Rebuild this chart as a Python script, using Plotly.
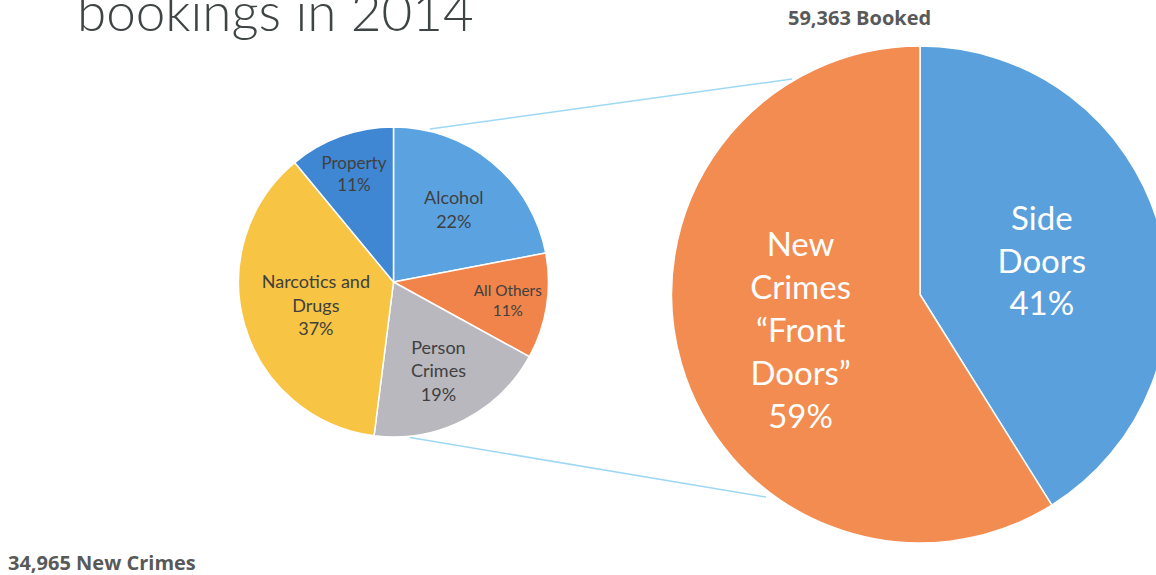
import plotly.graph_objects as go

# New-crime breakdown (share of new-crime bookings, %)
crime_types = ["Alcohol", "All Others", "Person Crimes", "Narcotics and Drugs", "Property"]
crime_text = ["Alcohol", "All Others", "Person<br>Crimes", "Narcotics and<br>Drugs", "Property"]
crime_share = [22, 11, 19, 37, 11]
crime_colors = ["#5BA3E0", "#F0844A", "#B9B8BE", "#F7C443", "#3F86D3"]

# All bookings split by entry route (counts)
booking_types = ["Side Doors", "New Crimes \u201cFront Doors\u201d"]
booking_text = ["Side<br>Doors", "New<br>Crimes<br>\u201cFront<br>Doors\u201d"]
booking_counts = [24398, 34965]
booking_colors = ["#5AA0DC", "#F28C50"]

total_booked = "59,363 Booked"
new_crimes_total = "34,965 New Crimes"
title_text = "bookings in 2014"

W, H = 1170, 575


def px(x):
    return x / W


def py(y):
    return 1 - y / H


fig = go.Figure()

# small pie: centre (393.5, 282), radius 155 px
fig.add_trace(go.Pie(
    labels=crime_types,
    values=crime_share,
    text=crime_text,
    texttemplate="%{text}<br>%{percent:.0%}",
    textposition="inside",
    insidetextorientation="horizontal",
    textfont=dict(family="Lato", size=18, color="#404040"),
    marker=dict(colors=crime_colors, line=dict(color="white", width=1.5)),
    sort=False,
    direction="clockwise",
    rotation=0,
    hoverinfo="skip",
    showlegend=False,
    domain=dict(x=[px(238.5), px(548.5)], y=[py(437), py(127)]),
))

# large pie: centre (920, 294.5), radius 248.5 px
fig.add_trace(go.Pie(
    labels=booking_types,
    values=booking_counts,
    text=booking_text,
    texttemplate="%{text}<br>%{percent:.0%}",
    textposition="inside",
    insidetextorientation="horizontal",
    textfont=dict(family="Lato", size=33, color="white"),
    marker=dict(colors=booking_colors, line=dict(color="white", width=1.5)),
    sort=False,
    direction="clockwise",
    rotation=0,
    hoverinfo="skip",
    showlegend=False,
    domain=dict(x=[px(671.5), px(1168.5)], y=[py(543), py(46)]),
))

# connector lines between the two pies
line_style = dict(color="#9ED8F5", width=1.5)
fig.add_shape(type="line", xref="paper", yref="paper",
              x0=px(430), y0=py(129), x1=px(792), y1=py(79), line=line_style)
fig.add_shape(type="line", xref="paper", yref="paper",
              x0=px(410), y0=py(437.5), x1=px(766), y1=py(497), line=line_style)

fig.add_annotation(text=title_text, xref="paper", yref="paper",
                   x=px(75), y=py(10), xanchor="left", yanchor="middle",
                   showarrow=False,
                   font=dict(family="Lato", size=53, color="#3F4444", weight=300))
fig.add_annotation(text=f"<b>{total_booked}</b>", xref="paper", yref="paper",
                   x=px(786), y=py(18), xanchor="left", yanchor="middle",
                   showarrow=False,
                   font=dict(family="Open Sans", size=20, color="#595959"))
fig.add_annotation(text=f"<b>{new_crimes_total}</b>", xref="paper", yref="paper",
                   x=px(6), y=py(562), xanchor="left", yanchor="middle",
                   showarrow=False,
                   font=dict(family="Open Sans", size=20, color="#595959"))

fig.update_layout(
    width=W, height=H, autosize=False,
    margin=dict(l=0, r=0, t=0, b=0),
    paper_bgcolor="white", plot_bgcolor="white",
)

fig.write_html(
    "out.html",
    post_script="document.body.style.margin='0';document.body.style.overflow='hidden';",
)
